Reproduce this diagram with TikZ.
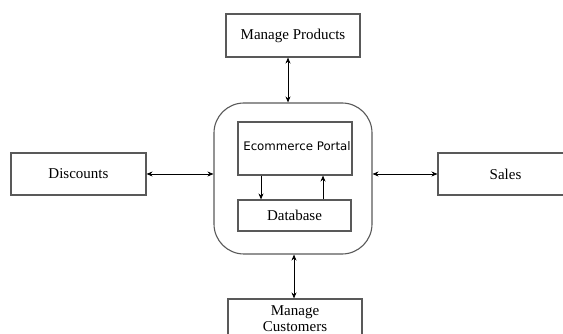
\documentclass[tikz,border=0pt]{standalone}
\usepackage{fontspec}
\setmainfont{Liberation Serif}
\newfontfamily\portalfont{DejaVu Sans}
\usetikzlibrary{arrows.meta}

\definecolor{boxline}{gray}{0.35}

\tikzset{
    sysbox/.style={draw=boxline, line width=1.1pt, rectangle, inner sep=0pt,
        font=\fontsize{15}{16}\selectfont, align=center},
    link/.style={{Stealth[length=6pt,width=5pt]}-{Stealth[length=6pt,width=5pt]}, line width=0.8pt},
    flow/.style={-{Stealth[length=6pt,width=5pt]}, line width=0.8pt}
}

\begin{document}
\begin{tikzpicture}[x=1pt, y=-1pt]

    \useasboundingbox (0,0) rectangle (563,334);
    \clip (0,0) rectangle (563,334);

    %% Portal with its database

    \begin{scope}
        % Outer system boundary
        \node[sysbox, rounded corners=30pt, minimum width=158pt, minimum height=151pt] (portal) at (293,178.5) {};

        % Portal
        \node[sysbox, minimum width=114pt, minimum height=53pt,
              font=\portalfont\fontsize{11.8}{13}\selectfont] (ecom) at (295,148.5) {\raisebox{5pt}{\hspace*{4pt}Ecommerce Portal}};

        % Database
        \node[sysbox, minimum width=113pt, minimum height=31pt] (db) at (294.5,215.5) {Database};

        % Flows between them
        \draw[flow] ([xshift=-34pt]ecom.south) -- ([xshift=-34pt]ecom.south |- db.north);
        \draw[flow] ([xshift=28.5pt]db.north) -- ([xshift=28.5pt]db.north |- ecom.south);
    \end{scope}

    %% Outer modules

    \begin{scope}
        \node[sysbox, minimum width=134pt, minimum height=43pt] (products) at (293,35.5) {Manage Products};
        \node[sysbox, minimum width=135pt, minimum height=42pt] (discounts) at (78.5,174) {Discounts};
        \node[sysbox, minimum width=135pt, minimum height=42pt] (sales) at (505.5,174) {Sales};
        \node[sysbox, minimum width=134pt, minimum height=40pt] (customers) at (295,319) {Manage\\Customers};

        % Links to the portal
        \draw[link] ([xshift=-5pt]products.south) -- ([xshift=-5pt]products.south |- portal.north);
        \draw[link] (discounts.east) -- (discounts.east -| portal.west);
        \draw[link] (sales.west) -- (sales.west -| portal.east);
        \draw[link] ([xshift=-1pt]customers.north) -- ([xshift=-1pt]customers.north |- portal.south);
    \end{scope}

\end{tikzpicture}
\end{document}
